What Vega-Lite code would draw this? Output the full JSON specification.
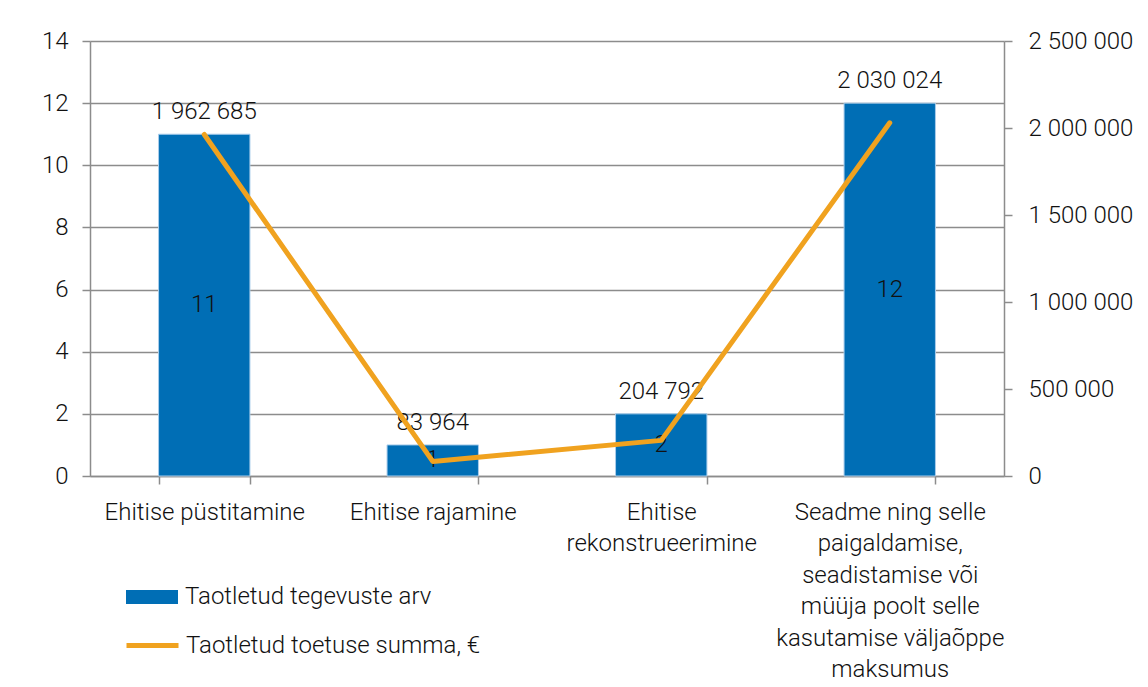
{
  "$schema": "https://vega.github.io/schema/vega-lite/v6.json",
  "width": 914,
  "height": 435,
  "autosize": "none",
  "padding": {"left": 90, "top": 41, "right": 144, "bottom": 211},
  "background": "white",
  "config": {
    "locale": {"number": {"decimal": ",", "thousands": " ", "grouping": [3], "currency": ["", " €"]}},
    "font": "Roboto",
    "view": {"stroke": null},
    "axis": {
      "domainColor": "#8c8c8c", "domainWidth": 1.5,
      "tickColor": "#8c8c8c", "tickWidth": 1.5, "tickSize": 8,
      "gridColor": "#8c8c8c", "gridWidth": 1.5, "gridOpacity": 1,
      "labelFont": "Roboto", "labelFontWeight": 300, "labelFontSize": 24, "labelColor": "#111111", "labelLimit": 0,
      "title": null
    },
    "legend": {"padding": 0, "labelFont": "Roboto", "labelFontWeight": 300, "labelFontSize": 24, "labelColor": "#111111", "labelLimit": 0}
  },
  "data": {
    "values": [
      {"kategooria": "Ehitise püstitamine", "arv": 11, "summa": 1962685},
      {"kategooria": "Ehitise rajamine", "arv": 1, "summa": 83964},
      {"kategooria": "Ehitise|rekonstrueerimine", "arv": 2, "summa": 204792},
      {"kategooria": "Seadme ning selle|paigaldamise,|seadistamise või|müüja poolt selle|kasutamise väljaõppe|maksumus", "arv": 12, "summa": 2030024}
    ]
  },
  "encoding": {
    "x": {
      "field": "kategooria", "type": "nominal", "sort": null,
      "scale": {"paddingInner": 0.6, "paddingOuter": 0.3},
      "axis": {"labelAngle": 0, "tickBand": "extent", "labelExpr": "split(datum.label, '|')", "labelLineHeight": 31.5, "labelPadding": 16, "labelBaseline": "top", "grid": false}
    }
  },
  "layer": [
    {
      "layer": [
        {
          "mark": {"type": "bar", "stroke": "#a9cdeb", "strokeWidth": 1},
          "encoding": {
            "y": {"field": "arv", "type": "quantitative", "scale": {"domain": [0, 14]},
                  "axis": {"orient": "left", "values": [0, 2, 4, 6, 8, 10, 12, 14], "grid": true, "labelPadding": 14}},
            "fill": {"datum": "Taotletud tegevuste arv", "type": "nominal", "scale": {"range": ["#006EB5"]},
                     "legend": {"title": null, "orient": "none", "legendX": 36, "legendY": 530,
                                "symbolType": "M-1,-0.27L1,-0.27L1,0.27L-1,0.27Z", "symbolSize": 2704,
                                "symbolStrokeWidth": 0, "labelOffset": 7}}
          }
        },
        {
          "mark": {"type": "text", "dy": -22, "font": "Roboto", "fontWeight": 300, "fontSize": 24, "color": "#111111"},
          "encoding": {
            "y": {"field": "arv", "type": "quantitative"},
            "text": {"field": "summa", "type": "quantitative", "format": ",d"}
          }
        }
      ]
    },
    {
      "mark": {"type": "text", "font": "Roboto", "fontWeight": 300, "fontSize": 24, "color": "#111111"},
      "encoding": {
        "y": {"field": "arv", "type": "quantitative", "scale": {"domain": [0, 28]}, "axis": null},
        "text": {"field": "arv", "type": "quantitative"}
      }
    },
    {
      "mark": {"type": "line", "strokeWidth": 5, "strokeCap": "round", "strokeJoin": "round"},
      "encoding": {
        "y": {"field": "summa", "type": "quantitative", "scale": {"domain": [0, 2500000]},
              "axis": {"orient": "right", "values": [0, 500000, 1000000, 1500000, 2000000, 2500000], "format": ",d", "grid": false, "labelPadding": 16}},
        "stroke": {"datum": "Taotletud toetuse summa, €", "type": "nominal", "scale": {"range": ["#F0A21F"]},
                   "legend": {"title": null, "orient": "none", "legendX": 34, "legendY": 576,
                              "symbolType": "stroke", "symbolSize": 2704, "symbolStrokeWidth": 5, "labelOffset": 5}}
      }
    }
  ],
  "resolve": {"scale": {"y": "independent", "fill": "independent", "stroke": "independent"}}
}
